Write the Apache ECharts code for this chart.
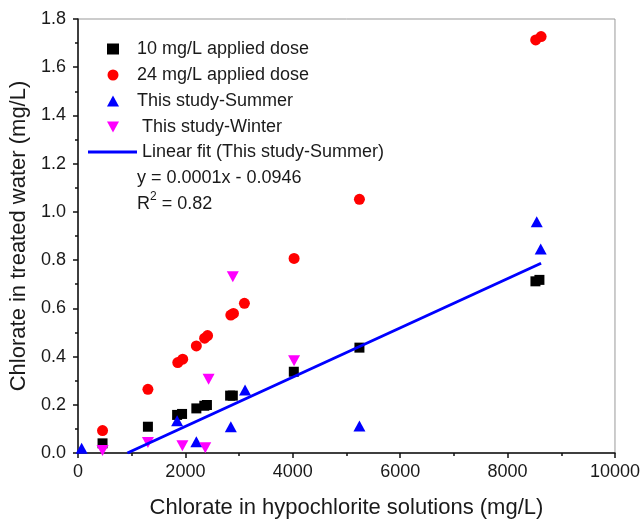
<!DOCTYPE html>
<html>
<head>
<meta charset="utf-8">
<script src="https://cdn.jsdelivr.net/npm/echarts@6/dist/echarts.min.js"></script>
<style>
html,body{margin:0;padding:0;background:#fff;}
#chart{width:643px;height:524px;}
</style>
</head>
<body>
<div id="chart"></div>
<script>
// ---- data ----
var dose10X = [457, 1302, 1846, 1938, 2204, 2352, 2401, 2833, 2883, 4019, 5241, 8519, 8593];
var dose10Y = [0.040, 0.109, 0.158, 0.162, 0.185, 0.196, 0.199, 0.238, 0.238, 0.337, 0.437, 0.712, 0.718];

var dose24X = [457, 1302, 1858, 1950, 2204, 2358, 2413, 2846, 2895, 3099, 4024, 5241, 8524, 8624];
var dose24Y = [0.093, 0.264, 0.375, 0.389, 0.444, 0.476, 0.487, 0.572, 0.579, 0.621, 0.807, 1.052, 1.713, 1.727];

var summerX = [68, 1846, 2204, 2846, 3111, 5241, 8543, 8617];
var summerY = [0.020, 0.134, 0.047, 0.109, 0.261, 0.112, 0.959, 0.846];

var winterX = [457, 1302, 1944, 2370, 2432, 2883, 4024];
var winterY = [0.010, 0.044, 0.030, 0.022, 0.306, 0.731, 0.383];

var fitX = [920, 8624];
var fitY = [0.0, 0.787];

var seriesNames = ['10 mg/L applied dose', '24 mg/L applied dose', 'This study-Summer', ' This study-Winter', 'Linear fit (This study-Summer)'];
var eqText = 'y = 0.0001x - 0.0946';
var r2Value = '0.82';

function zip(xs, ys) { return xs.map(function (x, i) { return [x, ys[i]]; }); }

var FONT = '"Liberation Sans", Arial, sans-serif';
var TXT = '#1a1a1a';
var DOWN_TRI = 'path://M0,0 L12,0 L6,11 Z';

var chart = echarts.init(document.getElementById('chart'), null, {renderer: 'canvas'});
chart.setOption({
  animation: false,
  backgroundColor: '#fff',
  grid: {left: 77, top: 19, right: 26, bottom: 71, show: true, borderColor: '#999', borderWidth: 1, backgroundColor: 'transparent'},
  xAxis: {
    type: 'value', min: 0, max: 10000, interval: 2000,
    name: 'Chlorate in hypochlorite solutions (mg/L)',
    nameLocation: 'middle', nameGap: 44,
    nameTextStyle: {fontFamily: FONT, fontSize: 22, color: TXT},
    axisLine: {show: true, onZero: false, lineStyle: {color: '#111', width: 1.5}},
    axisTick: {show: true, inside: false, length: 5, lineStyle: {color: '#111', width: 1.5}},
    minorTick: {show: true, splitNumber: 2, length: 3, lineStyle: {color: '#111', width: 1.5}},
    splitLine: {show: false},
    axisLabel: {fontFamily: FONT, fontSize: 18, color: TXT, margin: 10,
      formatter: function (v) { return String(v); }}
  },
  yAxis: {
    type: 'value', min: 0, max: 1.8, interval: 0.2,
    name: 'Chlorate in treated water (mg/L)',
    nameLocation: 'middle', nameGap: 48,
    nameTextStyle: {fontFamily: FONT, fontSize: 22, color: TXT},
    axisLine: {show: true, onZero: false, lineStyle: {color: '#111', width: 1.5}},
    axisTick: {show: true, inside: false, length: 5, lineStyle: {color: '#111', width: 1.5}},
    minorTick: {show: true, splitNumber: 2, length: 3, lineStyle: {color: '#111', width: 1.5}},
    splitLine: {show: false},
    axisLabel: {fontFamily: FONT, fontSize: 18, color: TXT, margin: 12,
      formatter: function (v) { return v.toFixed(1); }}
  },
  legend: [{
    orient: 'vertical', left: 102, top: 35,
    itemWidth: 12, itemHeight: 11, itemGap: 8,
    data: [
      {name: seriesNames[0]},
      {name: seriesNames[1]},
      {name: seriesNames[2]},
      {name: seriesNames[3], icon: DOWN_TRI}
    ],
    textStyle: {fontFamily: FONT, fontSize: 18, color: TXT, padding: [0, 0, 0, 13]}
  }, {
    orient: 'vertical', left: 83, top: 138,
    itemWidth: 49, itemHeight: 3,
    data: [{name: seriesNames[4], icon: 'rect'}],
    textStyle: {fontFamily: FONT, fontSize: 18, color: TXT}
  }],
  graphic: [{
    type: 'text', left: 137, top: 169,
    style: {text: eqText, font: '18px ' + FONT, fill: TXT}
  }, {
    type: 'text', left: 137, top: 191,
    style: {
      text: '{b|R}{s|2}{b| = ' + r2Value + '}',
      rich: {
        b: {fontFamily: FONT, fontSize: 18, fill: TXT, color: TXT, verticalAlign: 'bottom', lineHeight: 22},
        s: {fontFamily: FONT, fontSize: 12, fill: TXT, color: TXT, verticalAlign: 'top', lineHeight: 22, padding: [0, 0, 10, 0]}
      }
    }
  }],
  series: [{
    name: seriesNames[0], type: 'scatter', symbol: 'rect', symbolSize: 10,
    itemStyle: {color: '#000000', opacity: 1}, data: zip(dose10X, dose10Y)
  }, {
    name: seriesNames[1], type: 'scatter', symbol: 'circle', symbolSize: 11,
    itemStyle: {color: '#ff0000', opacity: 1}, data: zip(dose24X, dose24Y)
  }, {
    name: seriesNames[2], type: 'scatter', symbol: 'triangle', symbolSize: [12, 11],
    itemStyle: {color: '#0000ff', opacity: 1}, data: zip(summerX, summerY)
  }, {
    name: seriesNames[3], type: 'scatter', symbol: 'triangle', symbolSize: [12, 11], symbolRotate: 180,
    itemStyle: {color: '#ff00ff', opacity: 1}, data: zip(winterX, winterY)
  }, {
    name: seriesNames[4], type: 'line', showSymbol: false, symbol: 'none',
    lineStyle: {color: '#0000ff', width: 3}, itemStyle: {color: '#0000ff'},
    data: zip(fitX, fitY)
  }]
});
</script>
</body>
</html>
